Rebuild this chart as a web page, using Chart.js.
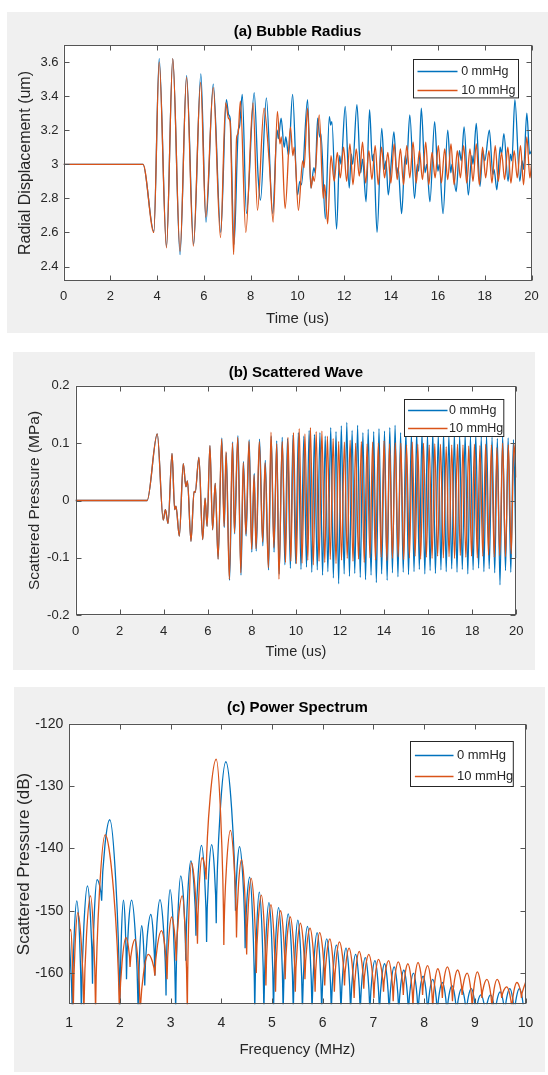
<!DOCTYPE html>
<html>
<head>
<meta charset="utf-8">
<title>Bubble radius, scattered wave, power spectrum</title>
<script src="https://cdn.jsdelivr.net/npm/chart.js@4.4.1/dist/chart.umd.min.js"></script>
<style>
  html, body { margin: 0; padding: 0; background: #fff; }
  body { position: relative; width: 548px; height: 1075px; overflow: hidden; }
  .panel { position: absolute; background: #f0f0f0; }
  .panel canvas { display: block; }
</style>
</head>
<body>
<div class="panel" style="left:7px; top:12px; width:541px; height:321px;"><canvas id="chartRadius" width="541" height="321"></canvas></div>
<div class="panel" style="left:13px; top:352px; width:522px; height:318px;"><canvas id="chartScatter" width="522" height="318"></canvas></div>
<div class="panel" style="left:14px; top:687px; width:531px; height:385px;"><canvas id="chartSpectrum" width="531" height="385"></canvas></div>

<script>
    var seriesLabels = ['0 mmHg', '10 mmHg'];

    // (a) bubble radius, turning points (time in us, radius in um)
    var radT0 = [0, 3.40, 3.86, 4.09, 4.40, 4.67, 4.98, 5.26, 5.56, 5.87,
        6.09, 6.40, 6.72, 6.96, 7.06, 7.12, 7.29, 7.47, 7.52, 7.64,
        7.82, 8.15, 8.32, 8.42, 8.67, 8.94, 9.13, 9.18, 9.30, 9.43,
        9.50, 9.62, 9.79, 10.00, 10.10, 10.17, 10.43, 10.57, 10.70, 10.76,
        10.86, 10.95, 11.00, 11.19, 11.36, 11.42, 11.47, 11.67, 11.80, 11.86,
        12.04, 12.21, 12.30, 12.36, 12.54, 12.70, 12.78, 12.93, 13.08, 13.20,
        13.25, 13.40, 13.60, 13.72, 13.78, 13.88, 14.00, 14.12, 14.25, 14.30,
        14.45, 14.60, 14.66, 14.80, 15.00, 15.12, 15.18, 15.29, 15.45, 15.52,
        15.66, 15.86, 16.00, 16.06, 16.22, 16.42, 16.55, 16.60, 16.78, 16.92,
        17.00, 17.12, 17.30, 17.45, 17.50, 17.64, 17.80, 17.92, 18.00, 18.20,
        18.35, 18.40, 18.52, 18.66, 18.72, 18.82, 19.00, 19.10, 19.16, 19.29,
        19.50, 19.60, 19.66, 19.80, 19.92, 20.00];
    var radR0 = [3.00, 3.00, 2.605, 3.62, 2.515, 3.62, 2.47, 3.52, 2.53, 3.53,
        2.66, 3.47, 2.60, 3.38, 3.29, 3.27, 2.53, 3.20, 3.22, 3.41,
        2.71, 3.42, 2.92, 2.79, 3.39, 2.71, 3.20, 3.15, 3.27, 3.10,
        3.16, 3.05, 3.41, 2.82, 2.90, 2.88, 3.38, 2.86, 2.98, 2.95,
        3.27, 3.16, 3.18, 2.68, 3.28, 3.23, 3.25, 2.62, 3.05, 3.00,
        3.34, 2.86, 3.06, 3.00, 3.35, 2.95, 3.03, 2.78, 3.32, 3.02,
        3.06, 2.60, 3.21, 2.97, 3.02, 2.82, 3.00, 3.19, 2.94, 2.98,
        2.71, 3.05, 3.00, 3.29, 2.80, 3.00, 2.96, 3.33, 2.95, 3.00,
        2.78, 3.25, 2.96, 3.00, 2.71, 3.20, 2.95, 3.00, 2.84, 3.08,
        3.02, 3.22, 2.82, 3.05, 3.00, 3.24, 2.87, 3.08, 3.02, 3.20,
        2.94, 2.97, 2.85, 3.10, 3.06, 3.18, 2.90, 3.06, 3.02, 3.38,
        2.90, 3.02, 2.97, 3.30, 3.06, 3.08];
    var radT10 = [0, 3.40, 3.86, 4.09, 4.40, 4.67, 4.98, 5.26, 5.55, 5.86,
        6.08, 6.40, 6.71, 6.93, 7.05, 7.12, 7.27, 7.40, 7.46, 7.56,
        7.79, 8.10, 8.29, 8.57, 8.79, 8.96, 9.14, 9.25, 9.31, 9.47,
        9.70, 9.80, 9.86, 10.04, 10.22, 10.28, 10.43, 10.58, 10.66, 10.72,
        10.93, 11.10, 11.16, 11.29, 11.43, 11.57, 11.70, 11.83, 11.97, 12.10,
        12.24, 12.37, 12.51, 12.64, 12.78, 12.91, 13.05, 13.18, 13.32, 13.45,
        13.59, 13.72, 13.86, 13.99, 14.13, 14.26, 14.40, 14.53, 14.67, 14.80,
        14.94, 15.07, 15.21, 15.34, 15.48, 15.61, 15.75, 15.88, 16.02, 16.15,
        16.29, 16.42, 16.56, 16.69, 16.83, 16.96, 17.10, 17.23, 17.37, 17.50,
        17.64, 17.77, 17.91, 18.04, 18.18, 18.31, 18.45, 18.58, 18.72, 18.85,
        18.99, 19.12, 19.26, 19.39, 19.53, 19.66, 19.80, 19.93, 20.00];
    var radR10 = [3.00, 3.00, 2.60, 3.60, 2.51, 3.62, 2.49, 3.51, 2.52, 3.48,
        2.69, 3.45, 2.57, 3.36, 3.27, 3.25, 2.47, 3.16, 3.18, 3.37,
        2.60, 3.36, 2.73, 3.33, 3.02, 2.66, 3.31, 3.12, 3.16, 2.74,
        3.22, 3.05, 3.10, 2.73, 3.02, 2.98, 3.33, 2.86, 2.93, 2.90,
        3.29, 2.80, 2.88, 2.65, 3.05, 2.90, 3.07, 2.92, 3.10, 2.90,
        3.12, 2.88, 3.09, 2.93, 3.13, 2.89, 3.08, 2.91, 3.11, 2.88,
        3.10, 2.92, 3.07, 2.89, 3.12, 2.91, 3.09, 2.88, 3.11, 2.92,
        3.13, 2.89, 3.08, 2.91, 3.13, 2.88, 3.07, 2.92, 3.11, 2.89,
        3.09, 2.91, 3.12, 2.88, 3.08, 2.92, 3.11, 2.89, 3.09, 2.90,
        3.12, 2.88, 3.10, 2.92, 3.08, 2.89, 3.11, 2.90, 3.07, 2.91,
        3.10, 2.89, 3.08, 2.92, 3.11, 2.88, 3.16, 2.92, 3.00];
    var radXTicks = [0, 2, 4, 6, 8, 10, 12, 14, 16, 18, 20];
    var radYTicks = [2.4, 2.6, 2.8, 3, 3.2, 3.4, 3.6];

    // (b) scattered wave (time in us, pressure in MPa)
    var scatT0 = [0, 3.25, 3.71, 3.98, 4.08, 4.20, 4.38, 4.50, 4.56, 4.71,
        4.89, 5.01, 5.08, 5.24, 5.38, 5.43, 5.60, 5.77, 5.88, 5.97,
        6.10, 6.22, 6.34, 6.47, 6.64, 6.75, 6.84, 6.99, 7.13, 7.22,
        7.37, 7.51, 7.62, 7.74, 7.88, 8.00, 8.11, 8.20, 8.35, 8.50,
        8.61, 8.76, 8.88, 9.01, 9.13, 9.24, 9.38, 9.50, 9.62, 9.75,
        9.87, 9.99, 10.11, 10.23, 10.36, 10.48, 10.60, 10.72, 10.84, 10.97,
        11.09, 11.21, 11.33, 11.45, 11.58, 11.70, 11.82, 11.94, 12.06, 12.19,
        12.31, 12.43, 12.55, 12.67, 12.80, 12.92, 13.04, 13.16, 13.28, 13.41,
        13.53, 13.65, 13.77, 13.89, 14.02, 14.14, 14.26, 14.38, 14.50, 14.63,
        14.75, 14.87, 14.99, 15.11, 15.24, 15.36, 15.48, 15.60, 15.72, 15.85,
        15.97, 16.09, 16.21, 16.33, 16.46, 16.58, 16.70, 16.82, 16.94, 17.07,
        17.19, 17.31, 17.43, 17.55, 17.68, 17.80, 17.92, 18.04, 18.16, 18.29,
        18.41, 18.53, 18.65, 18.77, 18.90, 19.02, 19.14, 19.26, 19.38, 19.51,
        19.63, 19.75, 19.87, 19.99];
    var scatP0 = [0, 0, 0.116, -0.034, -0.016, -0.040, 0.082, -0.016, -0.010, -0.062,
        0.064, 0.024, 0.034, -0.071, 0.016, 0.014, 0.075, -0.068, 0.004, -0.045,
        0.096, -0.051, 0.030, -0.102, 0.109, -0.047, 0.083, -0.139, 0.102, -0.058,
        0.113, -0.130, 0.068, -0.062, 0.106, -0.090, 0.047, -0.088, 0.107, -0.079,
        0.070, -0.121, 0.112, -0.090, 0.104, -0.128, 0.110, -0.112, 0.108, -0.118,
        0.114, -0.110, 0.118, -0.120, 0.112, -0.116, 0.122, -0.125, 0.115, -0.121,
        0.118, -0.130, 0.112, -0.124, 0.127, -0.135, 0.120, -0.145, 0.130, -0.128,
        0.136, -0.132, 0.122, -0.127, 0.131, -0.134, 0.118, -0.138, 0.124, -0.130,
        0.120, -0.143, 0.125, -0.128, 0.121, -0.139, 0.127, -0.126, 0.131, -0.133,
        0.118, -0.125, 0.122, -0.129, 0.117, -0.124, 0.121, -0.120, 0.119, -0.128,
        0.116, -0.122, 0.120, -0.127, 0.115, -0.121, 0.118, -0.124, 0.114, -0.119,
        0.117, -0.125, 0.113, -0.120, 0.116, -0.128, 0.112, -0.121, 0.115, -0.118,
        0.111, -0.124, 0.114, -0.119, 0.110, -0.126, 0.108, -0.147, 0.113, -0.122,
        0.109, -0.125, 0.106, -0.100];
    var scatT10 = [0, 3.25, 3.71, 3.98, 4.08, 4.20, 4.38, 4.50, 4.56, 4.71,
        4.89, 5.01, 5.08, 5.24, 5.38, 5.43, 5.60, 5.77, 5.88, 5.97,
        6.10, 6.22, 6.34, 6.47, 6.63, 6.74, 6.83, 6.98, 7.12, 7.21,
        7.36, 7.50, 7.61, 7.73, 7.87, 7.99, 8.10, 8.19, 8.34, 8.49,
        8.60, 8.75, 8.87, 9.00, 9.13, 9.23, 9.38, 9.53, 9.64, 9.77,
        9.89, 10.02, 10.15, 10.28, 10.41, 10.54, 10.66, 10.79, 10.92, 11.05,
        11.18, 11.31, 11.43, 11.56, 11.69, 11.82, 11.94, 12.07, 12.20, 12.33,
        12.46, 12.59, 12.71, 12.84, 12.97, 13.10, 13.23, 13.36, 13.48, 13.61,
        13.74, 13.87, 14.00, 14.13, 14.25, 14.38, 14.51, 14.64, 14.76, 14.89,
        15.02, 15.15, 15.28, 15.41, 15.53, 15.66, 15.79, 15.92, 16.05, 16.18,
        16.30, 16.43, 16.56, 16.69, 16.82, 16.95, 17.07, 17.20, 17.33, 17.46,
        17.58, 17.71, 17.84, 17.97, 18.10, 18.23, 18.35, 18.48, 18.61, 18.74,
        18.87, 19.00, 19.12, 19.25, 19.38, 19.51, 19.64, 19.77, 19.89, 20.00];
    var scatP10 = [0, 0, 0.116, -0.034, -0.016, -0.040, 0.082, -0.016, -0.010, -0.062,
        0.064, 0.024, 0.034, -0.071, 0.016, 0.014, 0.075, -0.068, 0.004, -0.045,
        0.096, -0.051, 0.030, -0.102, 0.107, -0.045, 0.085, -0.137, 0.100, -0.056,
        0.110, -0.126, 0.066, -0.059, 0.103, -0.085, 0.044, -0.084, 0.103, -0.072,
        0.066, -0.117, 0.119, -0.082, 0.099, -0.137, 0.103, -0.108, 0.110, -0.106,
        0.118, -0.110, 0.125, -0.109, 0.116, -0.104, 0.127, -0.112, 0.120, -0.106,
        0.121, -0.108, 0.112, -0.103, 0.108, -0.110, 0.103, -0.104, 0.102, -0.101,
        0.105, -0.106, 0.100, -0.102, 0.103, -0.108, 0.099, -0.100, 0.102, -0.104,
        0.100, -0.099, 0.104, -0.105, 0.099, -0.101, 0.101, -0.098, 0.100, -0.103,
        0.097, -0.100, 0.102, -0.097, 0.098, -0.102, 0.100, -0.099, 0.097, -0.101,
        0.099, -0.097, 0.098, -0.100, 0.094, -0.098, 0.097, -0.101, 0.098, -0.096,
        0.097, -0.099, 0.095, -0.097, 0.098, -0.100, 0.096, -0.097, 0.098, -0.095,
        0.097, -0.099, 0.092, -0.096, 0.100, -0.098, 0.097, -0.093, 0.098, 0.040];
    var scatXTicks = [0, 2, 4, 6, 8, 10, 12, 14, 16, 18, 20];
    var scatYTicks = [-0.2, -0.1, 0, 0.1, 0.2];

    // (c) power spectrum, lobe tops and nulls (MHz, dB); -167 marks a null that runs off the bottom
    var specF0 = [1.00, 1.06, 1.15, 1.24, 1.36, 1.46, 1.55, 1.64, 1.80, 2.00,
        2.07, 2.13, 2.23, 2.36, 2.43, 2.49, 2.61, 2.69, 2.79, 2.91,
        2.99, 3.10, 3.20, 3.30, 3.40, 3.50, 3.61, 3.71, 3.81, 3.90,
        4.09, 4.28, 4.36, 4.47, 4.56, 4.66, 4.75, 4.84, 4.94, 5.03,
        5.13, 5.22, 5.32, 5.42, 5.51, 5.60, 5.70, 5.79, 5.89, 5.98,
        6.08, 6.17, 6.27, 6.36, 6.46, 6.55, 6.65, 6.74, 6.84, 6.93,
        7.03, 7.12, 7.22, 7.31, 7.41, 7.50, 7.60, 7.69, 7.79, 7.88,
        7.98, 8.07, 8.17, 8.26, 8.36, 8.45, 8.55, 8.64, 8.74, 8.83,
        8.93, 9.02, 9.12, 9.21, 9.31, 9.40, 9.50, 9.59, 9.69, 9.78,
        9.88, 9.97, 10.00];
    var specDb0 = [-154, -167, -148.4, -167, -146.0, -161.7, -145.0, -148.4, -135.4, -167,
        -148.3, -161, -148.3, -167, -152.4, -162, -150.6, -160.4, -148.2, -163.6,
        -146.6, -167, -144.4, -158, -142.0, -154, -139.5, -155, -139.4, -152,
        -126.1, -150, -139.7, -156, -144.6, -167, -147.0, -167, -148.7, -167,
        -149.5, -167, -150.5, -167, -151.5, -167, -152.5, -167, -153.5, -167,
        -154.5, -167, -155.5, -167, -156, -167, -157, -167, -157.5, -167,
        -158, -167, -158.5, -167, -159, -167, -159.5, -167, -160, -167,
        -160.5, -167, -161, -167, -161.5, -167, -162, -167, -162.5, -167,
        -162.5, -167, -163.5, -167, -163.5, -167, -163, -167, -162.5, -167,
        -162.5, -167, -166];
    var specF10 = [1.00, 1.03, 1.08, 1.17, 1.29, 1.42, 1.52, 1.71, 1.99, 2.12,
        2.20, 2.30, 2.40, 2.56, 2.69, 2.82, 2.93, 3.02, 3.11, 3.23,
        3.33, 3.41, 3.53, 3.62, 3.70, 3.90, 4.05, 4.18, 4.30,
        4.40, 4.50, 4.59, 4.69, 4.79, 4.88, 4.98, 5.07, 5.17, 5.26,
        5.36, 5.46, 5.56, 5.65, 5.75, 5.85, 5.94, 6.04, 6.14, 6.23,
        6.33, 6.43, 6.52, 6.62, 6.72, 6.81, 6.91, 7.01, 7.10, 7.20,
        7.30, 7.39, 7.49, 7.59, 7.68, 7.78, 7.88, 7.97, 8.07, 8.17,
        8.27, 8.36, 8.46, 8.56, 8.66, 8.75, 8.85, 8.95, 9.05, 9.14,
        9.24, 9.34, 9.44, 9.53, 9.63, 9.73, 9.83, 9.92, 10.00];
    var specDb10 = [-153.5, -153, -167, -150.3, -167, -147.6, -167, -137.8, -167, -154.3,
        -159, -154.6, -167, -157.0, -160.4, -153.2, -161, -151, -158, -147.6,
        -167, -142.3, -155.3, -141.5, -145, -125.7, -155.5, -137.1, -154.3,
        -141.8, -157, -144.8, -160, -147.5, -162, -149, -163, -150, -161,
        -151, -163, -152, -161, -152.8, -163, -153.5, -162, -154.5, -163,
        -155, -162, -156, -164, -156.5, -162.5, -157, -164, -157.8, -163,
        -158, -164.5, -158.2, -163.5, -158.5, -165.5, -158.3, -163.5, -158.8, -166,
        -159.3, -164, -159, -164.5, -159.5, -163.5, -160, -166, -159.8, -164,
        -161, -166, -161, -164, -162.2, -166, -161.5, -164, -161.5];
    var specXTicks = [1, 2, 3, 4, 5, 6, 7, 8, 9, 10];
    var specYTicks = [-160, -150, -140, -130, -120];

    var BLUE = '#0072BD';
    var ORANGE = '#D95319';
    var FONT = '"Liberation Sans", Arial, Helvetica, sans-serif';

    Chart.defaults.font.family = FONT;
    Chart.defaults.color = '#262626';

    function pts(xs, ys) {
        return xs.map(function (x, i) { return { x: x, y: ys[i] }; });
    }
    function fmt(v) {
        return String(parseFloat(Number(v).toFixed(3)));
    }

    // white plot box, inward ticks on all four sides, title and legend like a matlab figure
    var matlabAxes = {
        id: 'matlabAxes',
        beforeDraw: function (chart) {
            var a = chart.chartArea, ctx = chart.ctx;
            ctx.save();
            ctx.fillStyle = '#ffffff';
            ctx.fillRect(a.left, a.top, a.right - a.left, a.bottom - a.top);
            ctx.restore();
        },
        afterDraw: function (chart, args, o) {
            var ctx = chart.ctx, a = chart.chartArea, sx = chart.scales.x, sy = chart.scales.y;
            var L = Math.round(a.left) + 0.5, R = Math.round(a.right) - 0.5;
            var T = Math.round(a.top) + 0.5, B = Math.round(a.bottom) - 0.5;
            ctx.save();
            ctx.strokeStyle = '#555555';
            ctx.lineWidth = 1;
            ctx.beginPath();
            sx.ticks.forEach(function (t) {
                var p = Math.round(sx.getPixelForValue(t.value)) + 0.5;
                ctx.moveTo(p, B); ctx.lineTo(p, B - 5);
                ctx.moveTo(p, T); ctx.lineTo(p, T + 5);
            });
            sy.ticks.forEach(function (t) {
                var p = Math.round(sy.getPixelForValue(t.value)) + 0.5;
                ctx.moveTo(L, p); ctx.lineTo(L + 5, p);
                ctx.moveTo(R, p); ctx.lineTo(R - 5, p);
            });
            ctx.stroke();
            ctx.strokeRect(L, T, R - L, B - T);

            ctx.fillStyle = '#000000';
            ctx.font = 'bold 15px ' + FONT;
            ctx.textAlign = 'center';
            ctx.textBaseline = 'middle';
            ctx.fillText(o.title, (a.left + a.right) / 2, o.titleY);

            var g = o.legend;
            var bx = Math.round(a.right - g.right - g.w) + 0.5;
            var by = Math.round(a.top + g.top) + 0.5;
            ctx.fillStyle = '#ffffff';
            ctx.fillRect(bx, by, g.w, g.h);
            ctx.strokeStyle = '#262626';
            ctx.strokeRect(bx, by, g.w, g.h);
            ctx.font = g.size + 'px ' + FONT;
            ctx.textAlign = 'left';
            chart.data.datasets.forEach(function (d, i) {
                var y = Math.round(by + g.rows[i]) + 0.5;
                ctx.strokeStyle = d.borderColor;
                ctx.lineWidth = 1.3;
                ctx.beginPath();
                ctx.moveTo(bx + g.lineX, y);
                ctx.lineTo(bx + g.lineX + g.lineLen, y);
                ctx.stroke();
                ctx.fillStyle = '#262626';
                ctx.fillText(d.label, bx + g.textX, y);
            });
            ctx.restore();
        }
    };

    // spectrum nulls are cusps in dB: steepen the curve into every local minimum
    var sharpNulls = {
        id: 'sharpNulls',
        beforeDatasetDraw: function (chart, args) {
            var line = args.meta.dataset;
            line.updateControlPoints(chart.chartArea);
            var p = line.points;
            for (var i = 1; i < p.length - 1; i++) {
                var a = p[i - 1], b = p[i], c = p[i + 1];
                if (b.y > a.y && b.y > c.y) {
                    b.cp1x = b.x - (b.x - a.x) * 0.08;
                    b.cp1y = b.y - (b.y - a.y) * 0.5;
                    b.cp2x = b.x + (c.x - b.x) * 0.08;
                    b.cp2y = b.y - (b.y - c.y) * 0.5;
                }
            }
        }
    };

    function makeChart(id, c) {
        var ctx = document.getElementById(id).getContext('2d');
        return new Chart(ctx, {
            type: 'line',
            data: {
                datasets: [
                    { label: seriesLabels[0], data: c.blue, borderColor: BLUE, order: 1 },
                    { label: seriesLabels[1], data: c.orange, borderColor: ORANGE, order: 0 }
                ]
            },
            options: {
                responsive: false,
                animation: false,
                devicePixelRatio: 1,
                layout: { padding: c.pad },
                elements: {
                    point: { radius: 0 },
                    line: { borderWidth: 1.3, fill: false, cubicInterpolationMode: 'monotone' }
                },
                plugins: {
                    legend: { display: false },
                    tooltip: { enabled: false },
                    matlabAxes: { title: c.title, titleY: c.titleY, legend: c.legend }
                },
                scales: {
                    x: {
                        type: 'linear',
                        min: c.xMin, max: c.xMax,
                        grid: { display: false, drawTicks: false },
                        border: { display: false },
                        afterBuildTicks: function (s) { s.ticks = c.xTicks.map(function (v) { return { value: v }; }); },
                        afterFit: function (s) { s.height = c.xH; },
                        ticks: { font: { size: c.tickSize }, padding: c.xTickPad, maxRotation: 0, autoSkip: false, callback: fmt },
                        title: { display: true, text: c.xTitle, font: { size: c.xTitleSize }, padding: { top: 0, bottom: c.xTitlePad } }
                    },
                    y: {
                        type: 'linear',
                        min: c.yMin, max: c.yMax,
                        grid: { display: false, drawTicks: false },
                        border: { display: false },
                        afterBuildTicks: function (s) { s.ticks = c.yTicks.map(function (v) { return { value: v }; }); },
                        afterFit: function (s) { s.width = c.yW; },
                        ticks: { font: { size: c.tickSize }, padding: c.yTickPad, autoSkip: false, callback: fmt },
                        title: { display: true, text: c.yTitle, font: { size: c.yTitleSize }, padding: { top: c.yTitlePad, bottom: 0 } }
                    }
                }
            },
            plugins: [matlabAxes].concat(c.extra || [])
        });
    }

    makeChart('chartRadius', {
        blue: pts(radT0, radR0), orange: pts(radT10, radR10),
        xMin: 0, xMax: 20, yMin: 2.315, yMax: 3.70,
        xTicks: radXTicks, yTicks: radYTicks,
        pad: { left: 0, top: 33, right: 16.5, bottom: 0 },
        yW: 56.5, xH: 52, tickSize: 13, xTickPad: 8, yTickPad: 5,
        xTitle: 'Time (us)', xTitleSize: 15, xTitlePad: 5,
        yTitle: 'Radial Displacement (um)', yTitleSize: 16, yTitlePad: 8.9,
        title: '(a) Bubble Radius', titleY: 20.3,
        legend: { right: 13.5, top: 14.3, w: 105, h: 38.4, rows: [11.4, 30], lineX: 4, lineLen: 40, textX: 47.7, size: 12.5 }
    });

    makeChart('chartScatter', {
        blue: pts(scatT0, scatP0), orange: pts(scatT10, scatP10),
        xMin: 0, xMax: 20, yMin: -0.2, yMax: 0.2,
        xTicks: scatXTicks, yTicks: scatYTicks,
        pad: { left: 0, top: 33.7, right: 18.7, bottom: 0 },
        yW: 62.5, xH: 54.7, tickSize: 13, xTickPad: 8, yTickPad: 6,
        xTitle: 'Time (us)', xTitleSize: 14.5, xTitlePad: 9.3,
        yTitle: 'Scattered Pressure (MPa)', yTitleSize: 15.5, yTitlePad: 12.7,
        title: '(b) Scattered Wave', titleY: 20.7,
        legend: { right: 12.6, top: 13.6, w: 99.3, h: 37, rows: [10.7, 28.4], lineX: 3.6, lineLen: 39.4, textX: 44.6, size: 12.5 }
    });

    makeChart('chartSpectrum', {
        blue: pts(specF0, specDb0), orange: pts(specF10, specDb10),
        xMin: 1, xMax: 10, yMin: -165, yMax: -120,
        xTicks: specXTicks, yTicks: specYTicks,
        pad: { left: 0, top: 36.7, right: 19.5, bottom: 0 },
        yW: 55.2, xH: 67.7, tickSize: 14, xTickPad: 10.6, yTickPad: 6,
        xTitle: 'Frequency (MHz)', xTitleSize: 15, xTitlePad: 13,
        yTitle: 'Scattered Pressure (dB)', yTitleSize: 17, yTitlePad: 0.3,
        title: '(c) Power Spectrum', titleY: 21.3,
        legend: { right: 13.1, top: 17.3, w: 102.8, h: 45, rows: [13, 34.7], lineX: 4.4, lineLen: 38.6, textX: 46.4, size: 13 },
        extra: [sharpNulls]
    });
</script>
</body>
</html>
